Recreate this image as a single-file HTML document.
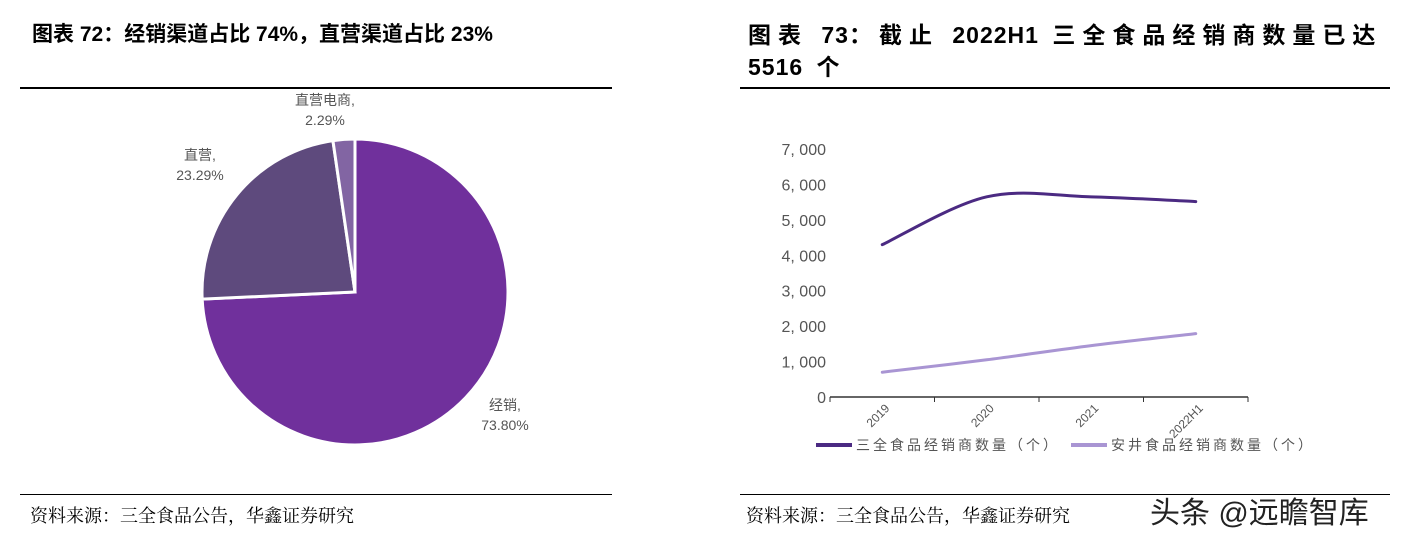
<!DOCTYPE html>
<html><head><meta charset="utf-8"><style>
body{margin:0;width:1403px;height:537px;background:#fff;font-family:"Liberation Sans","Noto Sans CJK SC",sans-serif;position:relative;overflow:hidden}
.t{position:absolute;font-weight:bold;font-size:21px;color:#000;line-height:30px}
.f{position:absolute;font-size:18px;color:#000;font-family:"Noto Serif CJK SC","Liberation Serif",serif}
.hr{position:absolute;background:#000}
.cj{letter-spacing:7px}
</style></head><body>
<div class="t" style="left:32px;top:20px">图表 72：经销渠道占比 74%，直营渠道占比 23%</div>
<div class="t" style="left:748px;top:19px;width:650px;font-size:23px;letter-spacing:1px;word-spacing:6px;line-height:32px"><span class="cj">图表</span> 73<span class="cj">：截止</span> 2022H1 <span class="cj">三全食品经销商数量已达</span><br>5516 个</div>
<div class="hr" style="left:20px;top:87px;width:592px;height:2px"></div>
<div class="hr" style="left:740px;top:87px;width:650px;height:2px"></div>
<div class="hr" style="left:20px;top:494px;width:592px;height:1px"></div>
<div class="hr" style="left:740px;top:494px;width:650px;height:1px"></div>
<div class="f" style="left:30px;top:502px">资料来源：三全食品公告，华鑫证券研究</div>
<div class="f" style="left:746px;top:502px">资料来源：三全食品公告，华鑫证券研究</div>
<div style="position:absolute;left:1150px;top:488px;font-size:30px;color:#222">头条 @远瞻智库</div>
<svg id="pie" width="700" height="420" style="position:absolute;left:0;top:90px"></svg>
<svg id="line" width="660" height="400" style="position:absolute;left:740px;top:90px"></svg>
<script>
const NS="http://www.w3.org/2000/svg";
function mk(p,t,a){const e=document.createElementNS(NS,t);for(const k in a)e.setAttribute(k,a[k]);p.appendChild(e);return e;}
// pie
const pieLabels=["经销","直营","直营电商"];
const pieValues=[73.80,23.29,2.29];
const pieColors=["#70309c","#5e4a7d","#8265a3"];
const pie=document.getElementById('pie');
const cx=355,cy=202,r=153;
let tot=pieValues.reduce((a,b)=>a+b,0),ang=0;
pieValues.forEach((v,i)=>{
 const a0=ang,a1=ang+v/tot*2*Math.PI;ang=a1;
 const x0=cx+r*Math.sin(a0),y0=cy-r*Math.cos(a0),x1=cx+r*Math.sin(a1),y1=cy-r*Math.cos(a1);
 const s=mk(pie,'path',{d:`M${cx},${cy}L${x0},${y0}A${r},${r} 0 ${a1-a0>Math.PI?1:0} 1 ${x1},${y1}Z`,fill:pieColors[i],stroke:'#fff','stroke-width':3});
 
 
});
const lblPos=[[505,320],[200,70],[325,15]];
pieLabels.forEach((l,i)=>{
 const t=mk(pie,'text',{x:lblPos[i][0],y:lblPos[i][1],'text-anchor':'middle','font-size':14,fill:'#555'});
 
 
 mk(t,'tspan',{x:lblPos[i][0],dy:0}).textContent=l+',';
 mk(t,'tspan',{x:lblPos[i][0],dy:20}).textContent=pieValues[i].toFixed(2)+'%';
});
// line
const categories=["2019","2020","2021","2022H1"];
const sanquan=[4300,5650,5650,5516];
const anjing=[700,1050,1450,1790];
const yTicks=[0,1000,2000,3000,4000,5000,6000,7000];
const yTickLabels=["0","1, 000","2, 000","3, 000","4, 000","5, 000","6, 000","7, 000"];
const lg=document.getElementById('line');
const x0=90,x1=508,yb=307,ppu=248/7000;
const bw=(x1-x0)/categories.length;
const X=i=>x0+bw*(i+0.5), Y=v=>yb-v*ppu;
yTicks.forEach((v,i)=>{const t=mk(lg,'text',{x:86,y:Y(v)+6,'text-anchor':'end','font-size':16,fill:'#555'});t.textContent=yTickLabels[i];
 });
const ax=mk(lg,'line',{x1:x0,x2:x1,y1:yb,y2:yb,stroke:'#333','stroke-width':1.5});

for(let i=0;i<=categories.length;i++){mk(lg,'line',{x1:x0+bw*i,x2:x0+bw*i,y1:yb,y2:yb+5,stroke:'#333'});}
categories.forEach((c,i)=>{const t=mk(lg,'text',{x:X(i)+8,y:yb+12,'text-anchor':'end','font-size':12,fill:'#555',transform:`rotate(-45 ${X(i)+8} ${yb+12})`});t.textContent=c;
 });
function smooth(vals){const p=vals.map((v,i)=>[X(i),Y(v)]);let d=`M${p[0][0]},${p[0][1]}`;
 for(let i=0;i<p.length-1;i++){const a=p[i-1]||p[i],b=p[i],c=p[i+1],e=p[i+2]||c;
 d+=`C${b[0]+(c[0]-a[0])/6},${b[1]+(c[1]-a[1])/6} ${c[0]-(e[0]-b[0])/6},${c[1]-(e[1]-b[1])/6} ${c[0]},${c[1]}`;}return d;}
const l1=mk(lg,'path',{d:smooth(sanquan),fill:'none',stroke:'#4b2a82','stroke-width':3,'stroke-linecap':'round'});

const l2=mk(lg,'path',{d:smooth(anjing),fill:'none',stroke:'#a995d3','stroke-width':3,'stroke-linecap':'round'});

const legs=[["三全食品经销商数量（个）","#4b2a82",78],["安井食品经销商数量（个）","#a995d3",333]];
legs.forEach(([t,c,x])=>{const g=mk(lg,'g',{});
 
 mk(g,'line',{x1:x-2,x2:x+34,y1:355,y2:355,stroke:c,'stroke-width':4});
 const tx=mk(g,'text',{x:x+38,y:360,'font-size':14,fill:'#555','letter-spacing':3});tx.textContent=t;});
</script>
</body></html>
